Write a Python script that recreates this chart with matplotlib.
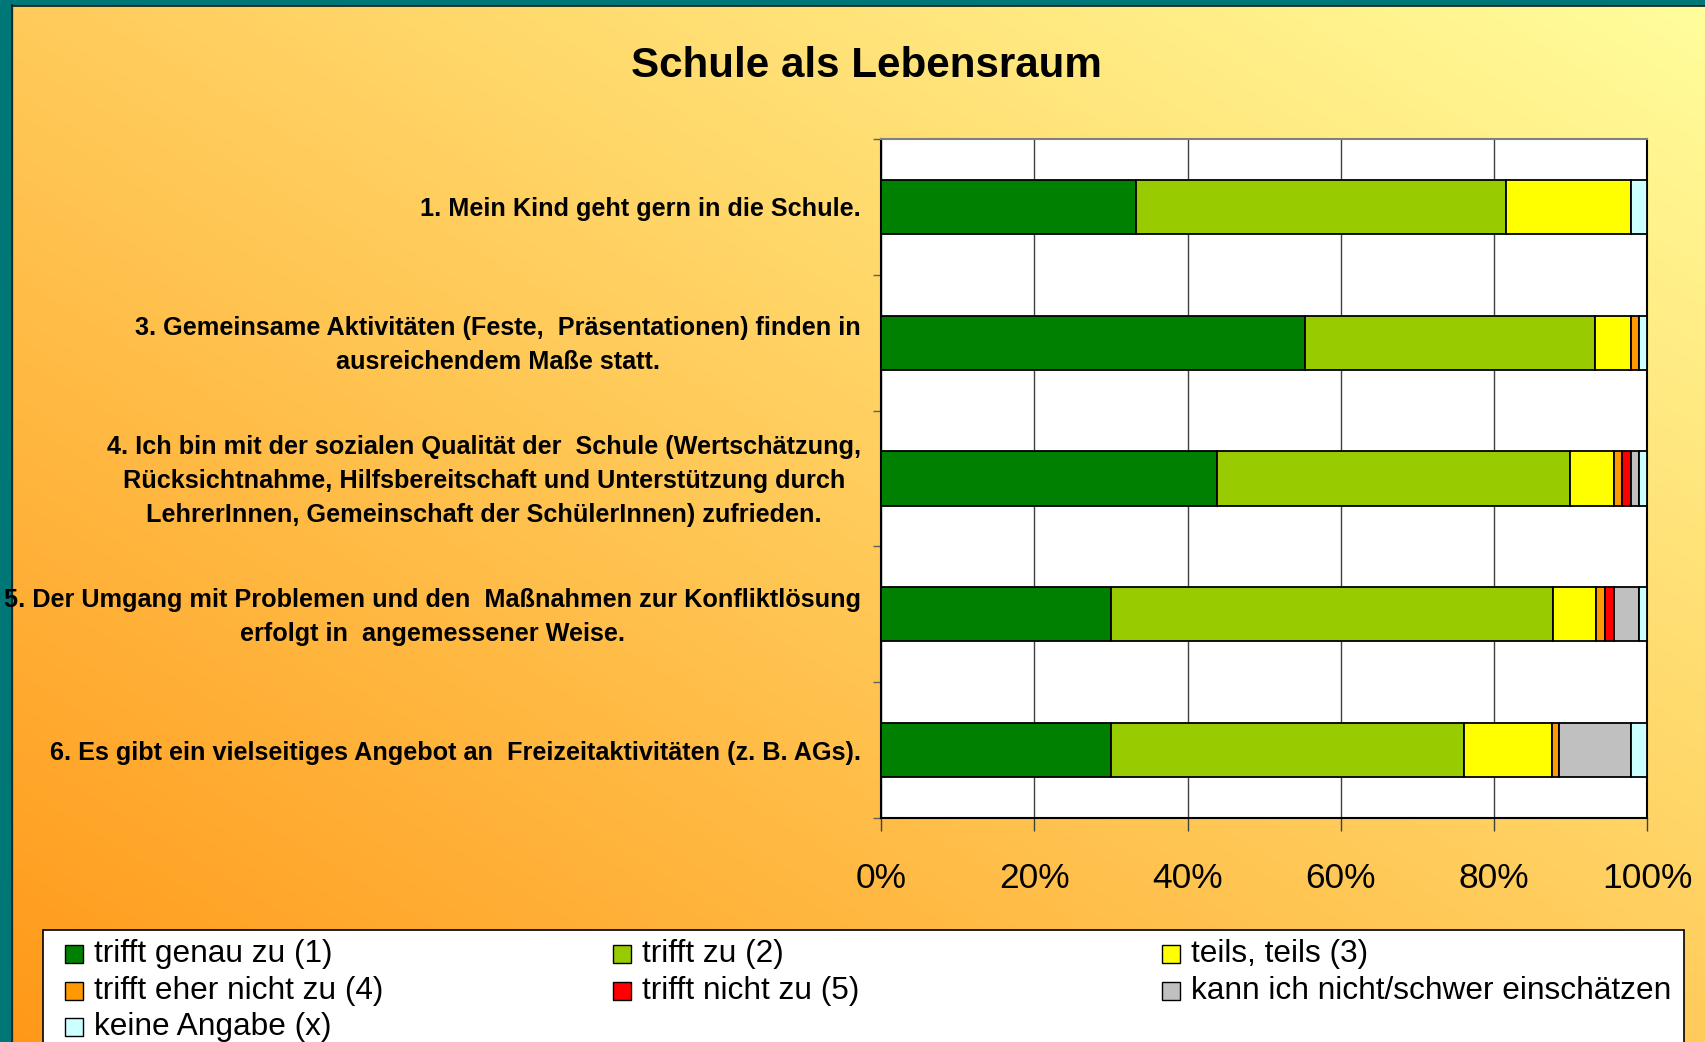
import numpy as np
import matplotlib
matplotlib.use("Agg")
import matplotlib.pyplot as plt
from matplotlib.patches import Rectangle
from matplotlib.lines import Line2D

plt.rcParams['font.family'] = ['Liberation Sans', 'DejaVu Sans']

# ---------------- data ----------------
title = "Schule als Lebensraum"
categories = [
    "1. Mein Kind geht gern in die Schule.",
    "3. Gemeinsame Aktivitäten (Feste,  Präsentationen) finden in\nausreichendem Maße statt.",
    "4. Ich bin mit der sozialen Qualität der  Schule (Wertschätzung,\nRücksichtnahme, Hilfsbereitschaft und Unterstützung durch\nLehrerInnen, Gemeinschaft der SchülerInnen) zufrieden.",
    "5. Der Umgang mit Problemen und den  Maßnahmen zur Konfliktlösung\nerfolgt in  angemessener Weise.",
    "6. Es gibt ein vielseitiges Angebot an  Freizeitaktivitäten (z. B. AGs).",
]
series_names = [
    "trifft genau zu (1)",
    "trifft zu (2)",
    "teils, teils (3)",
    "trifft eher nicht zu (4)",
    "trifft nicht zu (5)",
    "kann ich nicht/schwer einschätzen",
    "keine Angabe (x)",
]
s1 = [33.3, 55.3, 43.8, 30.0, 30.0]
s2 = [48.2, 37.9, 46.1, 57.7, 46.0]
s3 = [16.3, 4.6, 5.7, 5.6, 11.5]
s4 = [0.0, 1.1, 1.1, 1.1, 1.0]
s5 = [0.0, 0.0, 1.1, 1.2, 0.0]
s6 = [0.0, 0.0, 1.1, 3.3, 9.3]
sx = [2.2, 1.1, 1.1, 1.1, 2.2]
series_values = [s1, s2, s3, s4, s5, s6, sx]
colors = ["#008000", "#99CC00", "#FFFF00", "#FF9900", "#FF0000", "#C0C0C0", "#CCFFFF"]
xticks = [0, 20, 40, 60, 80, 100]
xticklabels = ["0%", "20%", "40%", "60%", "80%", "100%"]

# ---------------- figure ----------------
W, H = 1706, 1042
fig = plt.figure(figsize=(W / 100, H / 100), dpi=100)

# background gradient
bg = fig.add_axes([0, 0, 1, 1], zorder=-10)
bg.axis('off')
u = np.linspace(0, 1, 500)
v = np.linspace(0, 1, 400)
U, V = np.meshgrid(u, v)
t = 0.5 * (U + (1 - V))
c0 = np.array([255, 152, 24]) / 255
c1 = np.array([255, 254, 156]) / 255
img = c0 + (c1 - c0) * t[..., None]
bg.imshow(img, extent=[0, 1, 0, 1], aspect='auto', origin='upper')
bg.set_xlim(0, 1)
bg.set_ylim(0, 1)
# teal frame
bg.add_patch(Rectangle((0, 0), 12 / W, 1, color='#007777', zorder=2))
bg.add_patch(Rectangle((0, 1 - 5 / H), 1, 5 / H, color='#007777', zorder=2))
bg.add_line(Line2D([12.5 / W, 12.5 / W], [0, 1 - 5 / H], color='#102020', lw=1.2, zorder=3))
bg.add_line(Line2D([12.5 / W, 1], [1 - 5.5 / H, 1 - 5.5 / H], color='#102020', lw=1.2, zorder=3))

# main axes
ax = fig.add_axes([881 / W, 1 - 818 / H, 766.5 / W, 679 / H])
ax.set_facecolor('white')
y = np.arange(len(categories))
left = np.zeros(len(categories))
for name, vals, col in zip(series_names, series_values, colors):
    vals = np.array(vals)
    ax.barh(y, vals, left=left, height=0.4, color=col, edgecolor='black',
            linewidth=1.3, label=name, zorder=3)
    left = left + vals

ax.set_xlim(0, 100)
ax.set_ylim(len(categories) - 0.5, -0.5)
ax.set_xticks(xticks)
ax.set_xticklabels(xticklabels, fontsize=25.5)
ax.tick_params(axis='x', length=9, width=1, direction='out', pad=22.5, color='#404040')
ax.xaxis.grid(True, color='#404040', lw=1)
ax.set_axisbelow(True)

# category labels (placed at the category positions on the y scale)
ax.set_yticks(y)
ax.set_yticklabels([])
ax.tick_params(axis='y', which='major', length=0)
for yi, lab in zip(y, categories):
    multi = '\n' in lab
    ax.annotate(lab, xy=(0, yi), xycoords=('axes fraction', 'data'),
                xytext=(-20, -2.7 if multi else 0), textcoords='offset pixels',
                ha='right', va='center' if multi else 'center_baseline',
                multialignment='center', linespacing=1.53,
                fontsize=18.2, fontweight='bold', annotation_clip=False)
ax.set_yticks(np.arange(-0.5, len(categories), 1.0), minor=True)
ax.tick_params(axis='y', which='minor', length=6, width=1, color='#606060', direction='out')

for side in ['left', 'bottom', 'right']:
    ax.spines[side].set_color('black')
    ax.spines[side].set_linewidth(1.5)
ax.spines['top'].set_color('#808080')
ax.spines['top'].set_linewidth(1.5)

# title
fig.text(866 / W, 1 - 66.5 / H, title, ha='center', va='center', fontsize=30.3, fontweight='bold')

# legend (grid layout like reference)
fig.add_artist(Rectangle((43.5 / W, -0.02), (1684 - 43.5) / W, (1042 - 930) / H + 0.02,
                         transform=fig.transFigure, fc='white', ec='black', lw=1.2))
col_x = [65, 613, 1162]
row_y = [954, 991, 1027]
for i, (name, col) in enumerate(zip(series_names, colors)):
    r, c = divmod(i, 3)
    x0 = col_x[c]
    yc = row_y[r]
    fig.add_artist(Rectangle((x0 / W, 1 - (yc + 9) / H), 18 / W, 18 / H,
                             transform=fig.transFigure, fc=col, ec='black', lw=1))
    fig.text((x0 + 29.5) / W, 1 - yc / H, name, fontsize=22.8, ha='left', va='center')

fig.savefig("out.png", dpi=100)
